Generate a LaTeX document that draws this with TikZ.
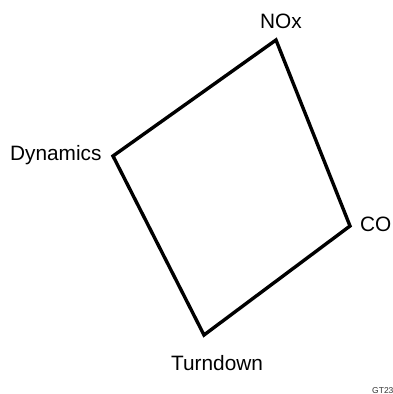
\documentclass[tikz,border=0pt]{standalone}
\usepackage{fontspec}
\setmainfont{Liberation Sans}
\begin{document}
\begin{tikzpicture}[x=1pt,y=-1pt,
  lbl/.style={inner sep=0pt,anchor=base west,font=\fontsize{20.8}{24}\selectfont},
  tiny/.style={inner sep=0pt,anchor=base west,font=\fontsize{8.5}{10}\selectfont,text=black!80},
  edge/.style={line width=3.4pt,line join=miter}]
\useasboundingbox (0,0) rectangle (392,394);
\coordinate (nox) at (276,40);
\coordinate (dyn) at (113,156);
\coordinate (co) at (350,226);
\coordinate (td) at (204,335);
\draw[edge] (nox) -- (dyn) -- (td) -- (co) -- cycle;
\node[lbl] (tnox) at (260,28) {NOx};
\node[lbl] (tdyn) at (10,160) {Dynamics};
\node[lbl] (tco) at (360,231) {CO};
\node[lbl] (ttd) at (171,370) {Turndown};
\node[tiny] (tgt) at (372,393) {GT23};
\end{tikzpicture}
\end{document}
